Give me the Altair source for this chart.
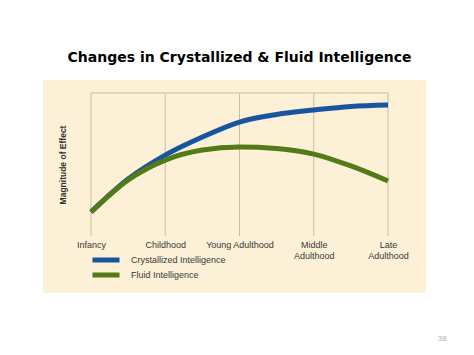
import altair as alt
import pandas as pd

# --- data ---
stages = ["Infancy", "Childhood", "Young Adulthood", "Middle Adulthood", "Late Adulthood"]
stage_ticks = [0, 1, 2, 3, 4]
stage_pos = [0, 0.5, 1, 1.5, 2, 2.5, 3, 3.5, 4]
crystallized = [16.8, 39.9, 56.6, 69.2, 79.7, 85.0, 88.1, 90.6, 91.6]
fluid = [16.8, 39.2, 53.1, 60.1, 62.2, 61.2, 57.3, 49.0, 38.5]
series_names = ["Crystallized Intelligence", "Fluid Intelligence"]
series_colors = ["#17559f", "#527a16"]
top_line = [100]

rows = []
for name, vals in zip(series_names, [crystallized, fluid]):
    for p, v in zip(stage_pos, vals):
        rows.append({"stage": p, "effect": v, "series": name})
df = pd.DataFrame(rows)

label_expr = (
    "datum.value == 0 ? 'Infancy' : datum.value == 1 ? 'Childhood' : "
    "datum.value == 2 ? 'Young Adulthood' : datum.value == 3 ? ['Middle', 'Adulthood'] : "
    "datum.value == 4 ? ['Late', 'Adulthood'] : ''"
)

W, H = 297, 143
GRID = "#cbbd9f"

xscale = alt.Scale(domain=[0, 4], nice=False, zero=False)
yscale = alt.Scale(domain=[0, 100], nice=False)

panel = alt.Chart(pd.DataFrame({"a": [0]})).mark_rect(color="#fcf0d7").encode(
    x=alt.value(-48), x2=alt.value(335), y=alt.value(-13), y2=alt.value(200)
)

vgrid = alt.Chart(pd.DataFrame({"stage": stage_ticks})).mark_rule(color=GRID, strokeWidth=1).encode(
    x=alt.X("stage:Q", scale=xscale), y=alt.value(0), y2=alt.value(H)
)
hgrid = alt.Chart(pd.DataFrame({"effect": top_line})).mark_rule(color=GRID, strokeWidth=1).encode(
    y=alt.Y("effect:Q", scale=yscale), x=alt.value(0), x2=alt.value(W)
)

lines = alt.Chart(df).mark_line(strokeWidth=5, interpolate="monotone", strokeCap="butt").encode(
    x=alt.X("stage:Q", scale=xscale,
            axis=alt.Axis(values=stage_ticks, grid=False, domain=False, ticks=False,
                          labelExpr=label_expr, zindex=1,
                          labelFont="Liberation Sans", labelFontSize=9, labelColor="#3a3a3a",
                          labelPadding=4, labelLineHeight=11, labelFlush=False, title=None)),
    y=alt.Y("effect:Q", scale=yscale,
            axis=alt.Axis(grid=False, domain=False, ticks=False, labels=False, zindex=1,
                          title="Magnitude of Effect",
                          titleFont="Liberation Sans", titleFontSize=8.5, titleFontWeight="bold",
                          titleColor="#333333", titlePadding=24)),
    color=alt.Color("series:N", sort=series_names,
                    scale=alt.Scale(domain=series_names, range=series_colors),
                    legend=alt.Legend(orient="none", legendX=10, legendY=162, title=None,
                                      symbolType="M-5.4,0H5.4", symbolSize=25,
                                      symbolStrokeWidth=5, symbolOpacity=1,
                                      labelFont="Liberation Sans", labelFontSize=9,
                                      labelColor="#3a3a3a", labelOffset=20, rowPadding=-6,
                                      padding=0, zindex=1)),
    order=alt.Order("series:N"),
)

page = alt.Chart(pd.DataFrame({"t": ["38"]})).mark_text(
    font="Liberation Sans", fontSize=8, color="#b0b0b0", align="center", baseline="middle"
).encode(text="t:N", x=alt.value(351), y=alt.value(246))

chart = alt.layer(panel, vgrid, hgrid, lines, page).properties(
    width=W, height=H,
    title=alt.TitleParams("Changes in Crystallized & Fluid Intelligence", font="DejaVu Sans",
                          fontSize=14, fontWeight="bold", color="#000000", anchor="middle",
                          baseline="alphabetic", offset=4),
    autosize=alt.AutoSizeParams(type="none"),
    padding={"left": 91, "top": 93, "right": 86, "bottom": 119},
).configure_view(stroke=None).configure(background="white")

chart.save("out.html", embed_options={"renderer": "svg", "actions": False})
